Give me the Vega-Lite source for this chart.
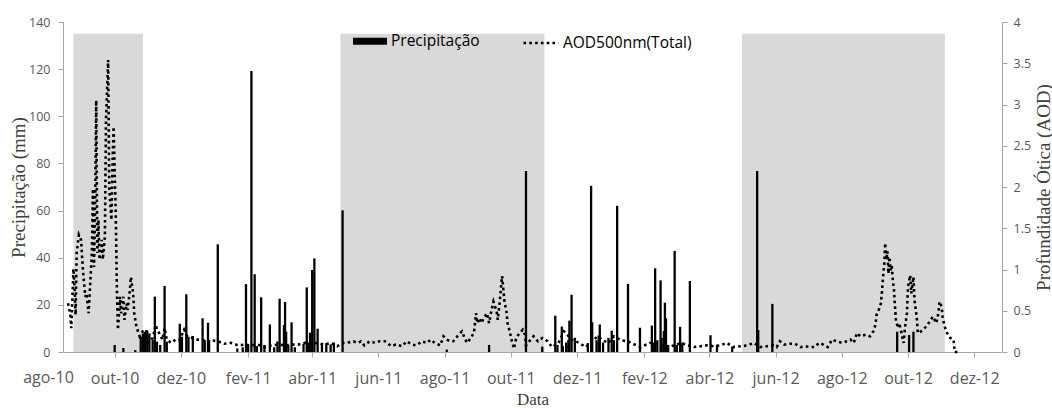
{
  "$schema": "https://vega.github.io/schema/vega-lite/v6.json",
  "width": 939,
  "height": 330,
  "autosize": {"type": "none"},
  "padding": {"left": 63, "top": 22, "right": 50, "bottom": 56},
  "background": "#ffffff",
  "config": {
    "view": {"stroke": null},
    "axis": {
      "grid": false,
      "domainColor": "#a6a6a6",
      "tickColor": "#a6a6a6",
      "labelColor": "#595959",
      "labelFont": "Open Sans",
      "titleFont": "Liberation Serif",
      "titleFontWeight": "normal",
      "titleColor": "#404040"
    }
  },
  "datasets": {
    "faixas": [
      {"inicio": "2010-08-24", "fim": "2010-10-27", "topo": 135},
      {"inicio": "2011-04-27", "fim": "2011-11-01", "topo": 135},
      {"inicio": "2012-05-01", "fim": "2012-11-04", "topo": 135}
    ],
    "chuva": [
      {"data": "2010-10-01", "precip": 3},
      {"data": "2010-10-09", "precip": 1.7},
      {"data": "2010-10-20", "precip": 0.8},
      {"data": "2010-10-25", "precip": 6.5},
      {"data": "2010-10-27", "precip": 7.9},
      {"data": "2010-10-29", "precip": 8.6},
      {"data": "2010-10-31", "precip": 9},
      {"data": "2010-11-02", "precip": 7.9},
      {"data": "2010-11-05", "precip": 5.1},
      {"data": "2010-11-07", "precip": 23.5},
      {"data": "2010-11-09", "precip": 4.4},
      {"data": "2010-11-12", "precip": 3},
      {"data": "2010-11-16", "precip": 28},
      {"data": "2010-11-18", "precip": 4.4},
      {"data": "2010-11-30", "precip": 12},
      {"data": "2010-12-02", "precip": 6.5},
      {"data": "2010-12-06", "precip": 24.5},
      {"data": "2010-12-08", "precip": 6.5},
      {"data": "2010-12-12", "precip": 6.8},
      {"data": "2010-12-21", "precip": 14.3},
      {"data": "2010-12-23", "precip": 5},
      {"data": "2010-12-26", "precip": 12.4},
      {"data": "2010-12-27", "precip": 5},
      {"data": "2011-01-04", "precip": 45.7},
      {"data": "2011-01-22", "precip": 1.5},
      {"data": "2011-01-27", "precip": 2},
      {"data": "2011-01-30", "precip": 28.8},
      {"data": "2011-02-01", "precip": 3},
      {"data": "2011-02-04", "precip": 119.2},
      {"data": "2011-02-07", "precip": 33},
      {"data": "2011-02-09", "precip": 2.5},
      {"data": "2011-02-13", "precip": 23.2},
      {"data": "2011-02-16", "precip": 3},
      {"data": "2011-02-21", "precip": 11.7},
      {"data": "2011-02-25", "precip": 2},
      {"data": "2011-02-28", "precip": 4.5},
      {"data": "2011-03-02", "precip": 22.6},
      {"data": "2011-03-06", "precip": 11.4},
      {"data": "2011-03-07", "precip": 21.2},
      {"data": "2011-03-08", "precip": 8.6},
      {"data": "2011-03-10", "precip": 3},
      {"data": "2011-03-13", "precip": 12.6},
      {"data": "2011-03-16", "precip": 2},
      {"data": "2011-03-24", "precip": 3.5},
      {"data": "2011-03-27", "precip": 27.4},
      {"data": "2011-03-28", "precip": 4},
      {"data": "2011-03-30", "precip": 8.2},
      {"data": "2011-04-01", "precip": 34.8},
      {"data": "2011-04-03", "precip": 39.7},
      {"data": "2011-04-06", "precip": 9.9},
      {"data": "2011-04-10", "precip": 3.5},
      {"data": "2011-04-14", "precip": 3.8},
      {"data": "2011-04-18", "precip": 3.2},
      {"data": "2011-04-21", "precip": 4},
      {"data": "2011-04-29", "precip": 60.1},
      {"data": "2011-08-03", "precip": 1},
      {"data": "2011-09-11", "precip": 3},
      {"data": "2011-10-15", "precip": 76.8},
      {"data": "2011-10-30", "precip": 2.3},
      {"data": "2011-11-11", "precip": 15.4},
      {"data": "2011-11-13", "precip": 3},
      {"data": "2011-11-17", "precip": 10.8},
      {"data": "2011-11-18", "precip": 2.5},
      {"data": "2011-11-21", "precip": 4},
      {"data": "2011-11-23", "precip": 5},
      {"data": "2011-11-24", "precip": 13.3},
      {"data": "2011-11-26", "precip": 24.3},
      {"data": "2011-11-29", "precip": 6},
      {"data": "2011-12-11", "precip": 3.8},
      {"data": "2011-12-14", "precip": 70.5},
      {"data": "2011-12-15", "precip": 12.6},
      {"data": "2011-12-19", "precip": 5},
      {"data": "2011-12-21", "precip": 7},
      {"data": "2011-12-22", "precip": 11.7},
      {"data": "2011-12-25", "precip": 4},
      {"data": "2011-12-30", "precip": 6},
      {"data": "2012-01-02", "precip": 9},
      {"data": "2012-01-04", "precip": 5},
      {"data": "2012-01-07", "precip": 62},
      {"data": "2012-01-17", "precip": 28.9},
      {"data": "2012-01-28", "precip": 10.3},
      {"data": "2012-02-08", "precip": 11.2},
      {"data": "2012-02-09", "precip": 4},
      {"data": "2012-02-11", "precip": 35.5},
      {"data": "2012-02-13", "precip": 5},
      {"data": "2012-02-16", "precip": 30.4},
      {"data": "2012-02-17", "precip": 6},
      {"data": "2012-02-19", "precip": 8.9},
      {"data": "2012-02-20", "precip": 20.9},
      {"data": "2012-02-21", "precip": 14.3},
      {"data": "2012-02-23", "precip": 3},
      {"data": "2012-02-29", "precip": 42.9},
      {"data": "2012-03-02", "precip": 3},
      {"data": "2012-03-05", "precip": 10.7},
      {"data": "2012-03-07", "precip": 4},
      {"data": "2012-03-14", "precip": 30.1},
      {"data": "2012-04-02", "precip": 7.1},
      {"data": "2012-04-08", "precip": 3},
      {"data": "2012-04-22", "precip": 2.3},
      {"data": "2012-05-15", "precip": 76.8},
      {"data": "2012-05-16", "precip": 9.3},
      {"data": "2012-05-29", "precip": 20.4},
      {"data": "2012-09-21", "precip": 8.6},
      {"data": "2012-10-02", "precip": 7.2},
      {"data": "2012-10-06", "precip": 8.6}
    ],
    "aod": [
      {"data": "2010-08-19", "aod": 0.59},
      {"data": "2010-08-21", "aod": 0.47},
      {"data": "2010-08-22", "aod": 0.29},
      {"data": "2010-08-23", "aod": 0.63},
      {"data": "2010-08-24", "aod": 1.01},
      {"data": "2010-08-25", "aod": 0.79},
      {"data": "2010-08-26", "aod": 0.45},
      {"data": "2010-08-27", "aod": 1.2},
      {"data": "2010-08-29", "aod": 1.42},
      {"data": "2010-08-31", "aod": 1.36},
      {"data": "2010-09-02", "aod": 0.95},
      {"data": "2010-09-04", "aod": 0.67},
      {"data": "2010-09-05", "aod": 0.71},
      {"data": "2010-09-07", "aod": 0.47},
      {"data": "2010-09-08", "aod": 0.71},
      {"data": "2010-09-10", "aod": 1.2},
      {"data": "2010-09-11", "aod": 1.98},
      {"data": "2010-09-12", "aod": 1.03},
      {"data": "2010-09-13", "aod": 1.76},
      {"data": "2010-09-14", "aod": 3.05},
      {"data": "2010-09-15", "aod": 1.2},
      {"data": "2010-09-16", "aod": 1.6},
      {"data": "2010-09-17", "aod": 1.12},
      {"data": "2010-09-19", "aod": 1.36},
      {"data": "2010-09-20", "aod": 1.12},
      {"data": "2010-09-22", "aod": 1.4},
      {"data": "2010-09-23", "aod": 2.81},
      {"data": "2010-09-25", "aod": 3.54},
      {"data": "2010-09-26", "aod": 2.0},
      {"data": "2010-09-28", "aod": 1.6},
      {"data": "2010-09-29", "aod": 2.25},
      {"data": "2010-09-30", "aod": 2.73},
      {"data": "2010-10-02", "aod": 1.68},
      {"data": "2010-10-03", "aod": 0.79},
      {"data": "2010-10-04", "aod": 0.27},
      {"data": "2010-10-06", "aod": 0.67},
      {"data": "2010-10-07", "aod": 0.47},
      {"data": "2010-10-09", "aod": 0.67},
      {"data": "2010-10-10", "aod": 0.39},
      {"data": "2010-10-12", "aod": 0.59},
      {"data": "2010-10-13", "aod": 0.51},
      {"data": "2010-10-15", "aod": 0.75},
      {"data": "2010-10-16", "aod": 0.91},
      {"data": "2010-10-18", "aod": 0.71},
      {"data": "2010-10-19", "aod": 0.47},
      {"data": "2010-10-21", "aod": 0.31},
      {"data": "2010-10-24", "aod": 0.19},
      {"data": "2010-10-27", "aod": 0.25},
      {"data": "2010-10-30", "aod": 0.27},
      {"data": "2010-11-01", "aod": 0.11},
      {"data": "2010-11-05", "aod": 0.17},
      {"data": "2010-11-08", "aod": 0.33},
      {"data": "2010-11-09", "aod": 0.27},
      {"data": "2010-11-11", "aod": 0.23},
      {"data": "2010-11-14", "aod": 0.15},
      {"data": "2010-11-16", "aod": 0.29},
      {"data": "2010-11-18", "aod": 0.15},
      {"data": "2010-11-22", "aod": 0.11},
      {"data": "2010-11-26", "aod": 0.15},
      {"data": "2010-11-30", "aod": 0.15},
      {"data": "2010-12-04", "aod": 0.27},
      {"data": "2010-12-07", "aod": 0.19},
      {"data": "2010-12-12", "aod": 0.17},
      {"data": "2010-12-16", "aod": 0.15},
      {"data": "2010-12-21", "aod": 0.15},
      {"data": "2010-12-24", "aod": 0.12},
      {"data": "2010-12-30", "aod": 0.14},
      {"data": "2011-01-04", "aod": 0.13},
      {"data": "2011-01-10", "aod": 0.1},
      {"data": "2011-01-16", "aod": 0.11},
      {"data": "2011-01-23", "aod": 0.08},
      {"data": "2011-01-29", "aod": 0.09},
      {"data": "2011-02-03", "aod": 0.08},
      {"data": "2011-02-10", "aod": 0.09},
      {"data": "2011-02-16", "aod": 0.06},
      {"data": "2011-02-22", "aod": 0.08},
      {"data": "2011-03-01", "aod": 0.09},
      {"data": "2011-03-07", "aod": 0.08},
      {"data": "2011-03-13", "aod": 0.09},
      {"data": "2011-03-19", "aod": 0.09},
      {"data": "2011-03-25", "aod": 0.11},
      {"data": "2011-03-31", "aod": 0.1},
      {"data": "2011-04-06", "aod": 0.11},
      {"data": "2011-04-12", "aod": 0.09},
      {"data": "2011-04-18", "aod": 0.11},
      {"data": "2011-04-24", "aod": 0.07},
      {"data": "2011-04-30", "aod": 0.11},
      {"data": "2011-05-06", "aod": 0.12},
      {"data": "2011-05-09", "aod": 0.13},
      {"data": "2011-05-13", "aod": 0.11},
      {"data": "2011-05-16", "aod": 0.13},
      {"data": "2011-05-19", "aod": 0.08},
      {"data": "2011-05-24", "aod": 0.13},
      {"data": "2011-05-29", "aod": 0.11},
      {"data": "2011-06-02", "aod": 0.13},
      {"data": "2011-06-07", "aod": 0.13},
      {"data": "2011-06-13", "aod": 0.07},
      {"data": "2011-06-17", "aod": 0.09},
      {"data": "2011-06-23", "aod": 0.07},
      {"data": "2011-06-27", "aod": 0.13},
      {"data": "2011-07-02", "aod": 0.09},
      {"data": "2011-07-06", "aod": 0.08},
      {"data": "2011-07-11", "aod": 0.13},
      {"data": "2011-07-16", "aod": 0.11},
      {"data": "2011-07-19", "aod": 0.15},
      {"data": "2011-07-23", "aod": 0.11},
      {"data": "2011-07-28", "aod": 0.08},
      {"data": "2011-07-31", "aod": 0.19},
      {"data": "2011-08-03", "aod": 0.15},
      {"data": "2011-08-06", "aod": 0.13},
      {"data": "2011-08-09", "aod": 0.13},
      {"data": "2011-08-14", "aod": 0.21},
      {"data": "2011-08-17", "aod": 0.25},
      {"data": "2011-08-20", "aod": 0.15},
      {"data": "2011-08-22", "aod": 0.11},
      {"data": "2011-08-25", "aod": 0.17},
      {"data": "2011-08-28", "aod": 0.23},
      {"data": "2011-08-30", "aod": 0.47},
      {"data": "2011-08-31", "aod": 0.35},
      {"data": "2011-09-02", "aod": 0.41},
      {"data": "2011-09-04", "aod": 0.35},
      {"data": "2011-09-06", "aod": 0.41},
      {"data": "2011-09-09", "aod": 0.47},
      {"data": "2011-09-11", "aod": 0.35},
      {"data": "2011-09-13", "aod": 0.49},
      {"data": "2011-09-15", "aod": 0.61},
      {"data": "2011-09-18", "aod": 0.49},
      {"data": "2011-09-19", "aod": 0.39},
      {"data": "2011-09-21", "aod": 0.63},
      {"data": "2011-09-22", "aod": 0.79},
      {"data": "2011-09-23", "aod": 0.92},
      {"data": "2011-09-25", "aod": 0.63},
      {"data": "2011-09-27", "aod": 0.49},
      {"data": "2011-09-28", "aod": 0.35},
      {"data": "2011-09-30", "aod": 0.25},
      {"data": "2011-10-02", "aod": 0.13},
      {"data": "2011-10-04", "aod": 0.04},
      {"data": "2011-10-06", "aod": 0.17},
      {"data": "2011-10-09", "aod": 0.23},
      {"data": "2011-10-12", "aod": 0.27},
      {"data": "2011-10-14", "aod": 0.21},
      {"data": "2011-10-15", "aod": 0.08},
      {"data": "2011-10-18", "aod": 0.13},
      {"data": "2011-10-22", "aod": 0.19},
      {"data": "2011-10-26", "aod": 0.13},
      {"data": "2011-10-30", "aod": 0.17},
      {"data": "2011-11-04", "aod": 0.13},
      {"data": "2011-11-08", "aod": 0.06},
      {"data": "2011-11-14", "aod": 0.11},
      {"data": "2011-11-19", "aod": 0.25},
      {"data": "2011-11-22", "aod": 0.21},
      {"data": "2011-11-26", "aod": 0.15},
      {"data": "2011-12-03", "aod": 0.11},
      {"data": "2011-12-09", "aod": 0.06},
      {"data": "2011-12-14", "aod": 0.12},
      {"data": "2011-12-20", "aod": 0.19},
      {"data": "2011-12-25", "aod": 0.14},
      {"data": "2011-12-30", "aod": 0.11},
      {"data": "2012-01-04", "aod": 0.19},
      {"data": "2012-01-11", "aod": 0.14},
      {"data": "2012-01-17", "aod": 0.13},
      {"data": "2012-01-23", "aod": 0.09},
      {"data": "2012-01-29", "aod": 0.06},
      {"data": "2012-02-06", "aod": 0.11},
      {"data": "2012-02-11", "aod": 0.11},
      {"data": "2012-02-16", "aod": 0.08},
      {"data": "2012-02-22", "aod": 0.06},
      {"data": "2012-02-29", "aod": 0.08},
      {"data": "2012-03-06", "aod": 0.11},
      {"data": "2012-03-12", "aod": 0.08},
      {"data": "2012-03-18", "aod": 0.06},
      {"data": "2012-03-24", "aod": 0.07},
      {"data": "2012-03-30", "aod": 0.08},
      {"data": "2012-04-05", "aod": 0.07},
      {"data": "2012-04-11", "aod": 0.08},
      {"data": "2012-04-17", "aod": 0.11},
      {"data": "2012-04-23", "aod": 0.06},
      {"data": "2012-04-30", "aod": 0.07},
      {"data": "2012-05-06", "aod": 0.08},
      {"data": "2012-05-12", "aod": 0.11},
      {"data": "2012-05-18", "aod": 0.06},
      {"data": "2012-05-24", "aod": 0.07},
      {"data": "2012-05-30", "aod": 0.08},
      {"data": "2012-06-02", "aod": 0.06},
      {"data": "2012-06-05", "aod": 0.13},
      {"data": "2012-06-09", "aod": 0.09},
      {"data": "2012-06-14", "aod": 0.1},
      {"data": "2012-06-19", "aod": 0.1},
      {"data": "2012-06-24", "aod": 0.06},
      {"data": "2012-06-28", "aod": 0.07},
      {"data": "2012-07-03", "aod": 0.06},
      {"data": "2012-07-07", "aod": 0.06},
      {"data": "2012-07-11", "aod": 0.11},
      {"data": "2012-07-15", "aod": 0.09},
      {"data": "2012-07-19", "aod": 0.06},
      {"data": "2012-07-23", "aod": 0.15},
      {"data": "2012-07-27", "aod": 0.13},
      {"data": "2012-08-01", "aod": 0.11},
      {"data": "2012-08-06", "aod": 0.13},
      {"data": "2012-08-09", "aod": 0.15},
      {"data": "2012-08-12", "aod": 0.11},
      {"data": "2012-08-15", "aod": 0.23},
      {"data": "2012-08-18", "aod": 0.19},
      {"data": "2012-08-23", "aod": 0.21},
      {"data": "2012-08-27", "aod": 0.19},
      {"data": "2012-08-30", "aod": 0.25},
      {"data": "2012-09-01", "aod": 0.33},
      {"data": "2012-09-02", "aod": 0.45},
      {"data": "2012-09-04", "aod": 0.51},
      {"data": "2012-09-06", "aod": 0.59},
      {"data": "2012-09-07", "aod": 0.73},
      {"data": "2012-09-08", "aod": 0.91},
      {"data": "2012-09-09", "aod": 1.05},
      {"data": "2012-09-10", "aod": 1.32},
      {"data": "2012-09-11", "aod": 1.12},
      {"data": "2012-09-12", "aod": 1.22},
      {"data": "2012-09-13", "aod": 0.95},
      {"data": "2012-09-14", "aod": 1.15},
      {"data": "2012-09-15", "aod": 0.99},
      {"data": "2012-09-16", "aod": 1.05},
      {"data": "2012-09-17", "aod": 0.87},
      {"data": "2012-09-18", "aod": 0.77},
      {"data": "2012-09-19", "aod": 0.55},
      {"data": "2012-09-20", "aod": 0.37},
      {"data": "2012-09-22", "aod": 0.29},
      {"data": "2012-09-23", "aod": 0.35},
      {"data": "2012-09-25", "aod": 0.23},
      {"data": "2012-09-27", "aod": 0.11},
      {"data": "2012-09-28", "aod": 0.27},
      {"data": "2012-09-30", "aod": 0.47},
      {"data": "2012-10-01", "aod": 0.79},
      {"data": "2012-10-03", "aod": 0.93},
      {"data": "2012-10-04", "aod": 0.71},
      {"data": "2012-10-06", "aod": 0.91},
      {"data": "2012-10-07", "aod": 0.63},
      {"data": "2012-10-09", "aod": 0.43},
      {"data": "2012-10-10", "aod": 0.23},
      {"data": "2012-10-13", "aod": 0.25},
      {"data": "2012-10-18", "aod": 0.31},
      {"data": "2012-10-21", "aod": 0.37},
      {"data": "2012-10-24", "aod": 0.43},
      {"data": "2012-10-27", "aod": 0.35},
      {"data": "2012-10-29", "aod": 0.47},
      {"data": "2012-10-30", "aod": 0.61},
      {"data": "2012-11-01", "aod": 0.55},
      {"data": "2012-11-02", "aod": 0.41},
      {"data": "2012-11-05", "aod": 0.25},
      {"data": "2012-11-09", "aod": 0.17},
      {"data": "2012-11-12", "aod": 0.15},
      {"data": "2012-11-13", "aod": 0.0},
      {"data": "2012-11-16", "aod": 0.0}
    ],
    "rotulos": [
      {"data": "2010-08-01", "rotulo": "ago-10"}
    ]
  },
  "layer": [
    {
      "data": {"name": "faixas"},
      "mark": {"type": "rect", "fill": "#d9d9d9"},
      "encoding": {
        "x": {
          "field": "inicio",
          "type": "temporal",
          "scale": {"type": "utc", "domain": [{"year": 2010, "month": 8, "date": 19, "utc": true}, {"year": 2012, "month": 12, "date": 22, "utc": true}]},
          "axis": {
            "title": "Data",
            "values": [
              {"year": 2010, "month": 10, "date": 1, "utc": true},
              {"year": 2010, "month": 12, "date": 1, "utc": true},
              {"year": 2011, "month": 2, "date": 1, "utc": true},
              {"year": 2011, "month": 4, "date": 1, "utc": true},
              {"year": 2011, "month": 6, "date": 1, "utc": true},
              {"year": 2011, "month": 8, "date": 1, "utc": true},
              {"year": 2011, "month": 10, "date": 1, "utc": true},
              {"year": 2011, "month": 12, "date": 1, "utc": true},
              {"year": 2012, "month": 2, "date": 1, "utc": true},
              {"year": 2012, "month": 4, "date": 1, "utc": true},
              {"year": 2012, "month": 6, "date": 1, "utc": true},
              {"year": 2012, "month": 8, "date": 1, "utc": true},
              {"year": 2012, "month": 10, "date": 1, "utc": true},
              {"year": 2012, "month": 12, "date": 1, "utc": true}
            ],
            "labelExpr": "['jan','fev','mar','abr','mai','jun','jul','ago','set','out','nov','dez'][utcmonth(datum.value)] + '-' + utcFormat(datum.value, '%y')",
            "labelFontSize": 16,
            "labelPadding": 13,
            "tickSize": 5,
            "labelFlush": false,
            "labelOverlap": false,
            "titleFontSize": 17,
            "titleBaseline": "alphabetic",
            "titleY": 52
          }
        },
        "x2": {"field": "fim"},
        "y": {"field": "topo", "type": "quantitative", "scale": {"domain": [0, 140], "nice": false}, "axis": null},
        "y2": {"datum": 0}
      }
    },
    {
      "data": {"name": "chuva"},
      "mark": {"type": "bar", "size": 2.3, "fill": "#000000"},
      "encoding": {
        "x": {
          "field": "data",
          "type": "temporal",
          "scale": {"type": "utc", "domain": [{"year": 2010, "month": 8, "date": 19, "utc": true}, {"year": 2012, "month": 12, "date": 22, "utc": true}]}
        },
        "y": {
          "field": "precip",
          "type": "quantitative",
          "scale": {"domain": [0, 140], "nice": false},
          "axis": {
            "orient": "left",
            "title": "Precipitação (mm)",
            "values": [0, 20, 40, 60, 80, 100, 120, 140],
            "labelFontSize": 12.5,
            "labelPadding": 8,
            "tickSize": 5,
            "titleFontSize": 19,
            "titleAngle": -90,
            "titleBaseline": "alphabetic",
            "titleX": -39
          }
        },
        "color": {
          "datum": "Precipitação",
          "type": "nominal",
          "scale": {"domain": ["Precipitação"], "range": ["#000000"]},
          "legend": {
            "title": null,
            "orient": "none",
            "legendX": 290,
            "legendY": 2.3,
            "padding": 0,
            "symbolType": "M-1,-0.21H1V0.21H-1Z",
            "symbolSize": 1156,
            "symbolStrokeWidth": 0,
            "labelFont": "Open Sans",
            "labelFontSize": 15.5,
            "labelColor": "#000000",
            "labelOffset": 4
          }
        }
      }
    },
    {
      "data": {"name": "rotulos"},
      "mark": {"type": "text", "font": "Open Sans", "fontSize": 16, "fill": "#595959", "baseline": "alphabetic", "align": "center", "dy": 30.7},
      "encoding": {
        "x": {"field": "data", "type": "temporal", "scale": {"type": "utc", "domain": [{"year": 2010, "month": 8, "date": 19, "utc": true}, {"year": 2012, "month": 12, "date": 22, "utc": true}]}},
        "y": {"datum": 0, "type": "quantitative", "scale": {"domain": [0, 140], "nice": false}, "axis": null},
        "text": {"field": "rotulo"}
      }
    },
    {
      "data": {"name": "aod"},
      "mark": {"type": "line", "stroke": "#000000", "strokeWidth": 2.6, "strokeCap": "butt", "interpolate": "linear"},
      "encoding": {
        "x": {"field": "data", "type": "temporal", "scale": {"type": "utc", "domain": [{"year": 2010, "month": 8, "date": 19, "utc": true}, {"year": 2012, "month": 12, "date": 22, "utc": true}]}},
        "y": {
          "field": "aod",
          "type": "quantitative",
          "scale": {"domain": [0, 4], "nice": false},
          "axis": {
            "orient": "right",
            "title": "Profundidade Ótica (AOD)",
            "values": [0, 0.5, 1, 1.5, 2, 2.5, 3, 3.5, 4],
            "format": "~g",
            "labelFontSize": 12.5,
            "labelPadding": 6,
            "tickSize": 5,
            "titleFontSize": 19,
            "titleAngle": -90,
            "titleBaseline": "alphabetic",
            "titleX": 47
          }
        },
        "strokeDash": {
          "datum": "AOD500nm(Total)",
          "type": "nominal",
          "scale": {"domain": ["AOD500nm(Total)"], "range": [[2.6, 3.2]]},
          "legend": {
            "title": null,
            "orient": "none",
            "legendX": 459,
            "legendY": 2,
            "padding": 0,
            "symbolType": "stroke",
            "symbolSize": 1225,
            "symbolStrokeWidth": 2.6,
            "symbolStrokeColor": "#000000",
            "labelFont": "Open Sans",
            "labelFontSize": 15.5,
            "labelColor": "#000000",
            "labelOffset": 3
          }
        }
      }
    }
  ],
  "resolve": {"scale": {"y": "independent"}}
}
